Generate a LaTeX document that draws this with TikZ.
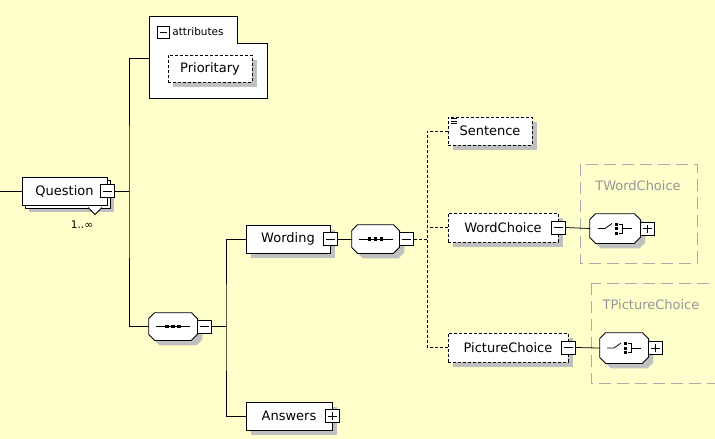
\documentclass[tikz,border=0pt]{standalone}
\usepackage{fontspec}
\setmainfont{DejaVu Sans}
\usetikzlibrary{shadows}

\definecolor{bgyellow}{RGB}{255,255,204}
\definecolor{shadowgray}{RGB}{192,192,192}
\definecolor{typegray}{RGB}{150,150,150}

% octagon round a (blank) compositor node
\newcommand{\octpath}[1]{([xshift=6pt]#1.north west) -- ([xshift=-6pt]#1.north east)
  -- ([yshift=-6pt]#1.north east) -- ([yshift=6pt]#1.south east)
  -- ([xshift=-6pt]#1.south east) -- ([xshift=6pt]#1.south west)
  -- ([yshift=6pt]#1.south west) -- ([yshift=-6pt]#1.north west) -- cycle}

\tikzset{
  elembase/.style={draw, fill=white, minimum height=28pt, inner sep=0pt,
    font=\fontsize{13}{15}\selectfont},
  elem/.style={elembase,
    general shadow={fill=shadowgray, shadow xshift=5pt, shadow yshift=-5pt}},
  optelem/.style={elem, dash pattern=on 3pt off 2pt},
  dashedlink/.style={dash pattern=on 3pt off 2pt},
  btnbase/.style={draw, fill=white, minimum width=14pt, minimum height=13pt, inner sep=0pt},
  btnminus/.style={btnbase,
    path picture={\draw ([xshift=2.5pt]path picture bounding box.west)
      -- ([xshift=-2.5pt]path picture bounding box.east);}},
  btnplus/.style={btnbase,
    path picture={\draw ([xshift=2.5pt]path picture bounding box.west)
      -- ([xshift=-2.5pt]path picture bounding box.east);
      \draw ([yshift=-2.5pt]path picture bounding box.north)
      -- ([yshift=2.5pt]path picture bounding box.south);}},
  compnode/.style={inner sep=0pt, minimum width=48pt, minimum height=28pt},
  compshape/.style={draw, fill=white,
    general shadow={fill=shadowgray, shadow xshift=5pt, shadow yshift=-5pt}},
  seqicon/.style={
    path picture={\path (path picture bounding box.center) coordinate (pc);
      \draw (pc)+(-17,0) -- +(17,0);
      \foreach \dx in {-6,0,6} \fill[black] (pc)+(\dx-1.8,-1.8) rectangle +(\dx+1.8,1.8);}},
  choiceicon/.style={
    path picture={\path (path picture bounding box.center) coordinate (pc);
      \draw (pc)+(-17,0) -- +(-10,0) -- +(-3,-5);
      \foreach \dy in {-4.5,0,4.5} \fill[black] (pc)+(0,\dy-1.5) rectangle +(3,\dy+1.5);
      \draw (pc)+(4,-4.5) -- +(7,-4.5) -- +(7,4.5) -- +(4,4.5);
      \draw (pc)+(7,0) -- +(17,0);}},
  typeframe/.style={draw=typegray!80, line width=0.8pt, dash pattern=on 12pt off 6pt},
  typelabel/.style={text=typegray, font=\fontsize{13}{15}\selectfont},
  smalltext/.style={font=\fontsize{10.5}{12}\selectfont, inner sep=1pt}
}

\begin{document}
\begin{tikzpicture}[x=1pt,y=-1pt,line width=0.75pt]
  \path[use as bounding box, fill=bgyellow] (0,0) rectangle (715,439);
  \clip (0,0) rectangle (715,439);

  % type frames
  \draw[typeframe] (580,164) rectangle (697,263);
  \node[typelabel] (twordchoice) at (638,186) {TWordChoice};
  \draw[typeframe] (591,283) rectangle (730,383);
  \node[typelabel] (tpicturechoice) at (651,305) {TPictureChoice};

  % root element
  \node[elembase, minimum width=85pt,
    general shadow={fill=shadowgray, shadow xshift=7pt, shadow yshift=-7pt},
    general shadow={draw=black, fill=white, shadow xshift=3pt, shadow yshift=-3pt}]
    (question) at (64.5,191) {Question};
  \fill[white] (88,207.5) -- (95,214.5) -- (102,207.5) -- cycle;
  \draw (88,207.5) -- (95,214.5) -- (102,207.5);
  \node[btnminus] (questionbtn) at (question.east) {};
  \node[smalltext] (questionmult) at (82,225) {1..∞};

  % attributes
  \draw[fill=white] (149,16) -- (237,16) -- (237,43) -- (267,43) -- (267,98) -- (149,98) -- cycle;
  \node[btnminus, minimum width=12pt, minimum height=12pt] (attrbtn) at (163,32.5) {};
  \node[smalltext, anchor=west] (attrtitle) at (171,32) {attributes};
  \node[optelem, minimum width=84pt, minimum height=27pt] (prioritary) at (210,68.5) {Prioritary};

  % sequence under Question
  \node[compnode, minimum height=27pt] (seqone) at (173,326.5) {};
  \draw[compshape, seqicon] \octpath{seqone};
  \node[btnminus, anchor=west] (seqonebtn) at (seqone.east) {};

  \node[elem, minimum width=84pt] (wording) at (288,239) {Wording};
  \node[btnminus] (wordingbtn) at (wording.east) {};
  \node[elem, minimum width=86pt] (answers) at (289,416) {Answers};
  \node[btnplus] (answersbtn) at (answers.east) {};

  % sequence under Wording
  \node[compnode, minimum width=47pt] (seqtwo) at (375.5,239) {};
  \draw[compshape, seqicon] \octpath{seqtwo};
  \node[btnminus, anchor=west] (seqtwobtn) at (seqtwo.east) {};

  \node[optelem, minimum width=84pt] (sentence) at (490,131) {Sentence};
  \draw[line width=0.6pt] ([shift={(3,2)}]sentence.north west) -- +(6,0)
    ([shift={(3,4.5)}]sentence.north west) -- +(6,0)
    ([shift={(3,7)}]sentence.north west) -- +(6,0);
  \node[optelem, minimum width=110pt, minimum height=29pt] (wordchoice) at (503,227.5) {WordChoice};
  \node[btnminus] (wordchoicebtn) at (wordchoice.east) {};
  \node[optelem, minimum width=120pt, minimum height=29pt] (picturechoice) at (508,347.5) {PictureChoice};
  \node[btnminus] (picturechoicebtn) at (picturechoice.east) {};

  % choices
  \node[compnode, minimum width=50pt, minimum height=29pt] (choiceone) at (615,228.5) {};
  \draw[compshape, choiceicon] \octpath{choiceone};
  \node[btnplus, anchor=west] (choiceonebtn) at (choiceone.east) {};
  \node[compnode, minimum height=30pt] (choicetwo) at (624,348) {};
  \draw[compshape, choiceicon] \octpath{choicetwo};
  \node[btnplus, anchor=west] (choicetwobtn) at (choicetwo.east) {};

  % connectors
  \coordinate (questionin) at (0,191);
  \draw (questionin) -- (question.west);
  \coordinate (questionspine) at (129,191);
  \coordinate (attrsin) at (149,58);
  \draw (questionbtn.east) -- (questionspine);
  \draw (attrsin) -| (questionspine) |- (seqone.west);

  \coordinate (seqonespine) at (226,326.5);
  \draw (seqonebtn.east) -- (seqonespine);
  \draw (wording.west) -| (seqonespine) |- (answers.west);
  \draw (wordingbtn.east) -- (seqtwo.west);

  \coordinate (seqtwospine) at (427,239);
  \draw[dashedlink] (seqtwobtn.east) -- (seqtwospine);
  \draw[dashedlink] (sentence.west) -| (seqtwospine) |- (picturechoice.west);
  \draw[dashedlink] (wordchoice.west) -- (wordchoice.west -| seqtwospine);

  \draw (wordchoicebtn.east) -- (choiceone.west);
  \draw (picturechoicebtn.east) -- (choicetwo.west);
\end{tikzpicture}
\end{document}
